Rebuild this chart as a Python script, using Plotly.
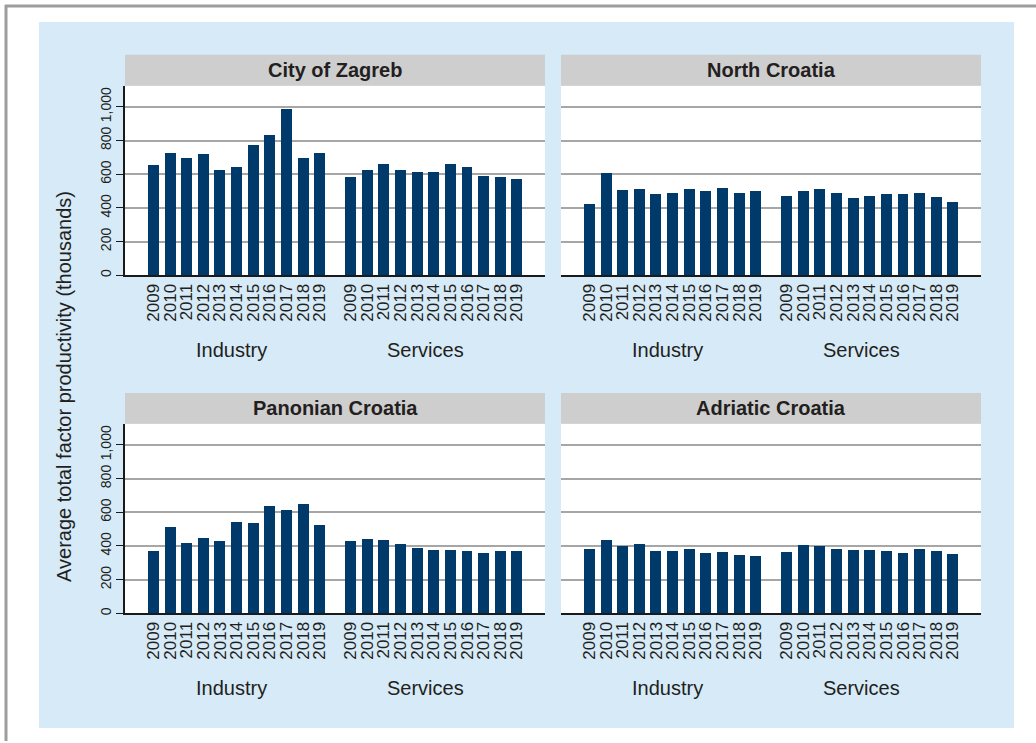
import plotly.graph_objects as go

years = ["2009", "2010", "2011", "2012", "2013", "2014", "2015", "2016", "2017", "2018", "2019"]
regions = ["City of Zagreb", "North Croatia", "Panonian Croatia", "Adriatic Croatia"]
sectors = ["Industry", "Services"]

zagreb_industry = [657, 728, 698, 722, 627, 645, 775, 834, 988, 698, 728]
zagreb_services = [586, 627, 663, 627, 615, 615, 663, 645, 592, 586, 574]
north_industry = [426, 609, 509, 515, 485, 491, 515, 503, 521, 491, 503]
north_services = [473, 503, 515, 491, 462, 473, 485, 485, 491, 467, 438]
panonian_industry = [373, 515, 420, 450, 432, 544, 538, 639, 615, 651, 527]
panonian_services = [432, 444, 438, 414, 391, 379, 379, 373, 361, 373, 373]
adriatic_industry = [385, 438, 402, 414, 373, 373, 385, 361, 367, 349, 343]
adriatic_services = [367, 408, 402, 385, 379, 379, 373, 361, 385, 373, 355]

data = [
    (zagreb_industry, zagreb_services),
    (north_industry, north_services),
    (panonian_industry, panonian_services),
    (adriatic_industry, adriatic_services),
]

W, H = 1036, 743
def fx(p): return p / W
def fy(p): return 1 - p / H

BAR = "#003a6b"
TXT = "#231f20"
FONT = "Liberation Sans, Arial, sans-serif"

gap = 11.85
x_ind = [i for i in range(len(years))]
x_srv = [gap + i for i in range(len(years))]

# panel pixel boxes: (left, right, top, bottom)
boxes = [(125, 545, 86, 276), (561, 981, 86, 276), (125, 545, 425, 615), (561, 981, 425, 615)]

fig = go.Figure()
shapes = []
annotations = []

# background panel and borders
shapes.append(dict(type="rect", xref="paper", yref="paper", x0=fx(39), x1=fx(1014), y0=fy(730), y1=fy(22),
                   fillcolor="#d6eaf8", line=dict(width=0), layer="below"))
shapes.append(dict(type="line", xref="paper", yref="paper", x0=fx(6), x1=fx(6), y0=0, y1=fy(5),
                   line=dict(color="#9d9d9d", width=3), layer="below"))
shapes.append(dict(type="line", xref="paper", yref="paper", x0=fx(5), x1=1, y0=fy(6), y1=fy(6),
                   line=dict(color="#9d9d9d", width=3), layer="below"))

layout_axes = {}
for k, (reg, (ind, srv), (l, r, t, b)) in enumerate(zip(regions, data, boxes)):
    n = k + 1
    xa = "x" if n == 1 else f"x{n}"
    ya = "y" if n == 1 else f"y{n}"
    fig.add_trace(go.Bar(x=x_ind + x_srv, y=ind + srv, marker=dict(color=BAR, line=dict(width=0)),
                         width=0.66, xaxis=xa, yaxis=ya, showlegend=False))
    left = (k % 2 == 0)
    layout_axes["xaxis" if n == 1 else f"xaxis{n}"] = dict(
        domain=[fx(l), fx(r)], anchor=ya, range=[-1.71, 23.54],
        tickvals=x_ind + x_srv, ticktext=years + years, tickangle=-90,
        tickfont=dict(size=17, color=TXT, family=FONT), ticks="",
        showline=True, linecolor="#1a1a1a", linewidth=1.5, showgrid=False, zeroline=False, fixedrange=True)
    layout_axes["yaxis" if n == 1 else f"yaxis{n}"] = dict(
        domain=[fy(b), fy(t)], anchor=xa, range=[0, 1125],
        tickvals=[0, 200, 400, 600, 800, 1000], tickformat=",", tickangle=-90,
        tickfont=dict(size=14, color=TXT, family=FONT),
        showticklabels=left, ticks="outside" if left else "", ticklen=7, tickcolor="#1a1a1a", tickwidth=1.2,
        showline=left, linecolor="#1a1a1a", linewidth=1.5,
        showgrid=True, gridcolor="#a6a6a6", gridwidth=1.5, zeroline=False, fixedrange=True)
    # white plot area
    shapes.append(dict(type="rect", xref="paper", yref="paper", x0=fx(l), x1=fx(r), y0=fy(b), y1=fy(t),
                       fillcolor="white", line=dict(width=0), layer="below"))
    # grey strip
    shapes.append(dict(type="rect", xref="paper", yref="paper", x0=fx(l), x1=fx(r), y0=fy(t), y1=fy(t - 31),
                       fillcolor="#cecece", line=dict(width=0), layer="below"))
    annotations.append(dict(xref="paper", yref="paper", x=fx((l + r) / 2), y=fy(t - 15.5),
                            text=f"<b>{reg}</b>", showarrow=False, xanchor="center", yanchor="middle",
                            font=dict(size=20, color=TXT, family=FONT)))
    # group labels
    for sec, cx in zip(sectors, [231 - 125, 425 - 125]):
        annotations.append(dict(xref="paper", yref="paper", x=fx(l + cx), y=fy(b + 75),
                                text=sec, showarrow=False, xanchor="center", yanchor="middle",
                                font=dict(size=20, color=TXT, family=FONT)))

annotations.append(dict(xref="paper", yref="paper", x=fx(64), y=fy(388),
                        text="Average total factor productivity (thousands)", textangle=-90,
                        showarrow=False, xanchor="center", yanchor="middle",
                        font=dict(size=20, color=TXT, family=FONT)))

fig.update_layout(
    width=W, height=H, margin=dict(l=0, r=0, t=0, b=0),
    paper_bgcolor="white", plot_bgcolor="rgba(0,0,0,0)",
    shapes=shapes, annotations=annotations, bargap=0,
    font=dict(family=FONT, color=TXT),
    **layout_axes,
)

fig.write_html("out.html", config={"displayModeBar": False},
               post_script="document.body.style.margin='0';document.body.style.overflow='hidden';")
